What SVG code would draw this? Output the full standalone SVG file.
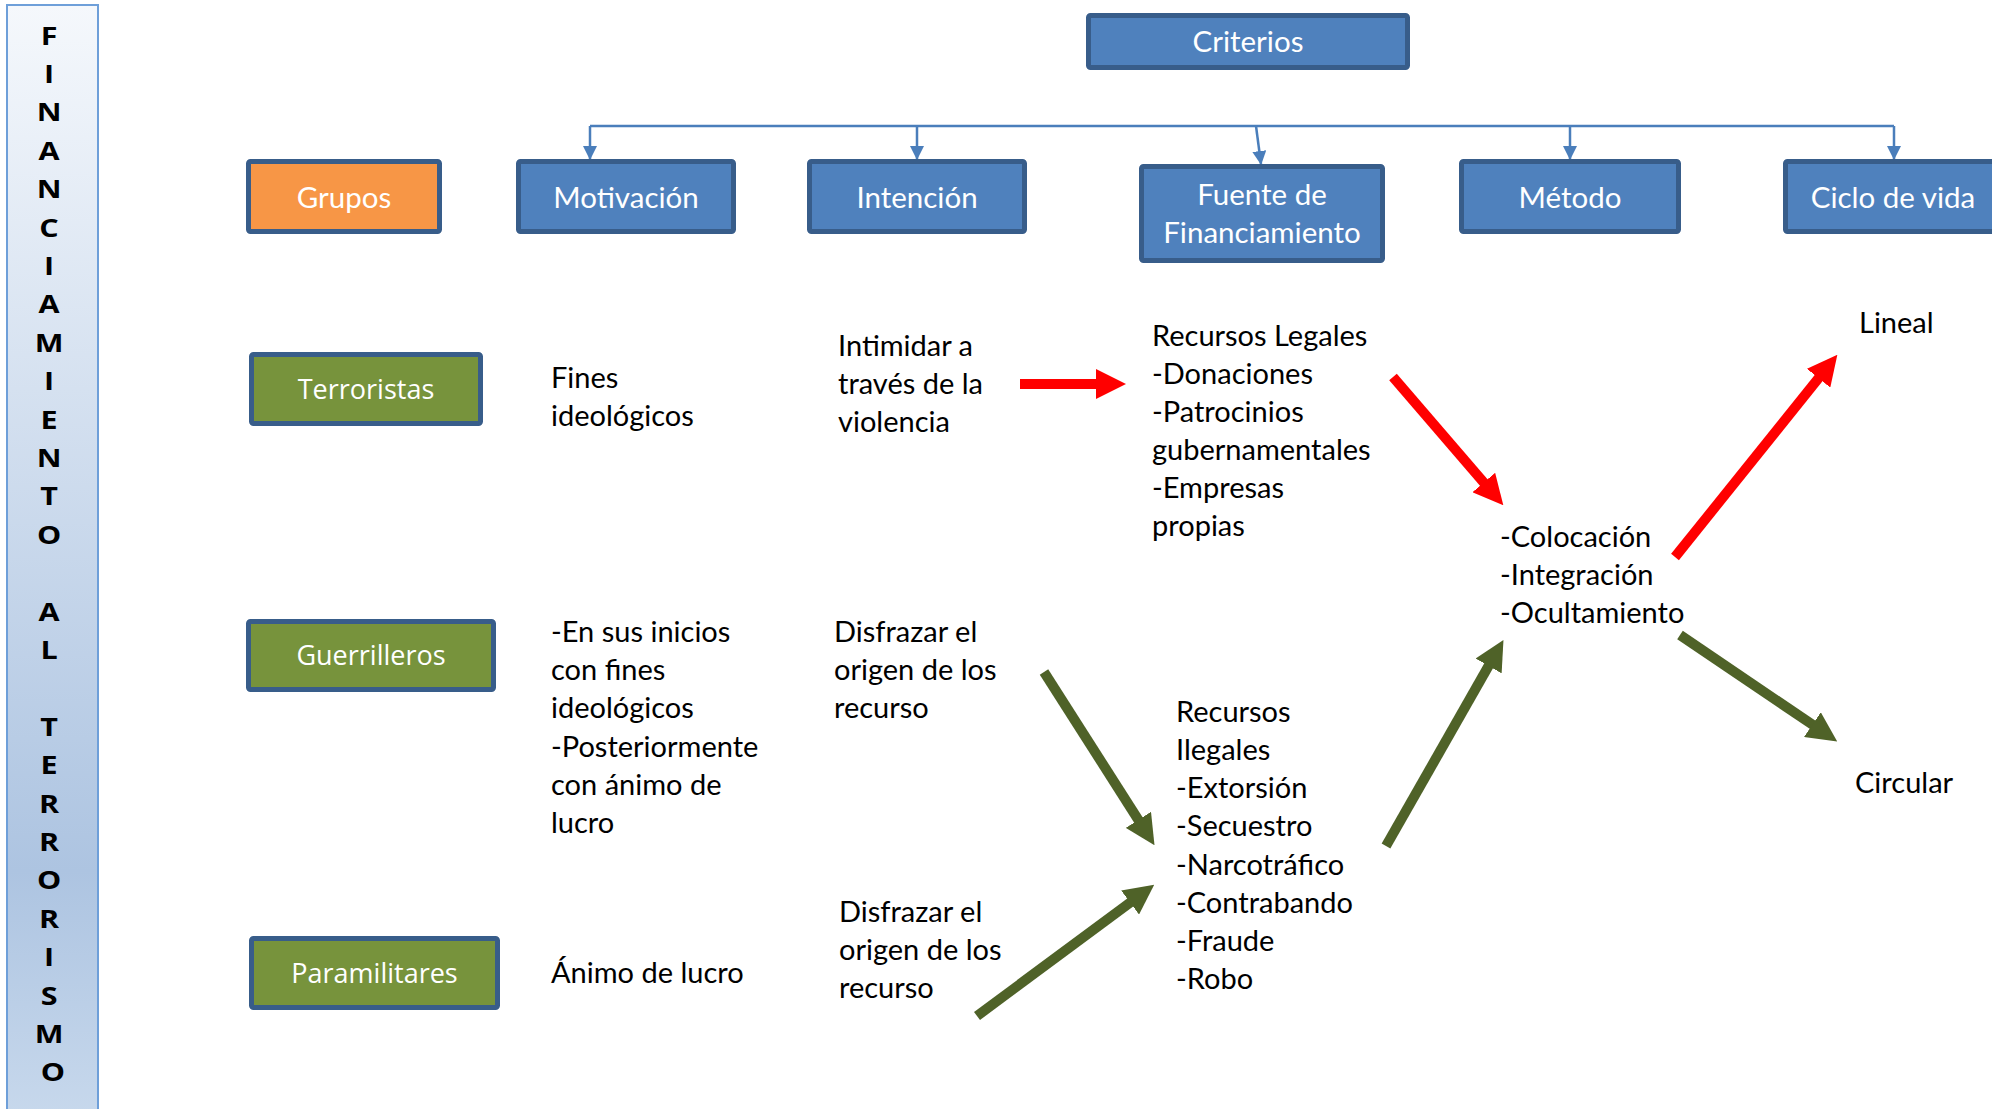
<svg xmlns="http://www.w3.org/2000/svg" width="1992" height="1109" viewBox="0 0 1992 1109">
<defs>
<linearGradient id="sideGrad" x1="0" y1="0" x2="0" y2="1">
<stop offset="0" stop-color="#f5f8fc"/>
<stop offset="0.78" stop-color="#adc4e1"/>
<stop offset="1" stop-color="#c7d8ec"/>
</linearGradient>
<marker id="mBlue" markerUnits="userSpaceOnUse" markerWidth="14" markerHeight="14" viewBox="0 0 14 14" refX="13" refY="7" orient="auto">
<path d="M0,0 L14,7 L0,14 Z" fill="#4a7ebb"/>
</marker>
<marker id="mRed" markerUnits="userSpaceOnUse" markerWidth="30" markerHeight="30" viewBox="0 0 30 30" refX="1" refY="15" orient="auto">
<path d="M0,0 L30,15 L0,30 Z" fill="#ff0000"/>
</marker>
<marker id="mGreen" markerUnits="userSpaceOnUse" markerWidth="30" markerHeight="30" viewBox="0 0 30 30" refX="1" refY="15" orient="auto">
<path d="M0,0 L30,15 L0,30 Z" fill="#4f6228"/>
</marker>
</defs>
<style>
.box{stroke:#385d8a;stroke-width:5}
.blue{fill:#4f81bd}
.orange{fill:#f79646}
.green{fill:#77933c}
.lbl{font-family:Lato,"Liberation Sans",sans-serif;font-size:29.5px;fill:#ffffff;text-anchor:middle}
.glbl{font-family:"Open Sans","Liberation Sans",sans-serif;font-size:27px;fill:#ffffff;text-anchor:middle}
.txt{font-family:Lato,"Liberation Sans",sans-serif;font-size:29px;fill:#000000}
.side{font-family:"Open Sans","Liberation Sans",sans-serif;font-size:25px;font-weight:bold;fill:#000000;text-anchor:middle}
.conn{stroke:#4a7ebb;stroke-width:2.5;fill:none}
.red{stroke:#ff0000;stroke-width:10;fill:none}
.grn{stroke:#4f6228;stroke-width:10;fill:none}
</style>
<rect width="1992" height="1109" fill="#ffffff"/>

<g id="sidebar">
<rect x="7" y="5" width="91" height="1110" fill="url(#sideGrad)" stroke="#6e9fd9" stroke-width="2"/>
<text class="side" transform="translate(53,0) scale(1.22,1) translate(-53,0)">
<tspan x="53" y="44.6">F</tspan>
<tspan x="53" dy="38.4">I</tspan>
<tspan x="53" dy="38.4">N</tspan>
<tspan x="53" dy="38.4">A</tspan>
<tspan x="53" dy="38.4">N</tspan>
<tspan x="53" dy="38.4">C</tspan>
<tspan x="53" dy="38.4">I</tspan>
<tspan x="53" dy="38.4">A</tspan>
<tspan x="53" dy="38.4">M</tspan>
<tspan x="53" dy="38.4">I</tspan>
<tspan x="53" dy="38.4">E</tspan>
<tspan x="53" dy="38.4">N</tspan>
<tspan x="53" dy="38.4">T</tspan>
<tspan x="53" dy="38.4">O</tspan>
<tspan x="53" dy="76.8">A</tspan>
<tspan x="53" dy="38.4">L</tspan>
<tspan x="53" dy="76.8">T</tspan>
<tspan x="53" dy="38.4">E</tspan>
<tspan x="53" dy="38.4">R</tspan>
<tspan x="53" dy="38.4">R</tspan>
<tspan x="53" dy="38.4">O</tspan>
<tspan x="53" dy="38.4">R</tspan>
<tspan x="53" dy="38.4">I</tspan>
<tspan x="53" dy="38.4">S</tspan>
<tspan x="53" dy="38.4">M</tspan>
<tspan x="53" dy="38.4">O</tspan>
</text>
</g>

<g id="connectors">
<polyline class="conn" points="590,126 1894,126"/>
<line class="conn" x1="590" y1="126" x2="590" y2="159" marker-end="url(#mBlue)"/>
<line class="conn" x1="917" y1="126" x2="917" y2="159" marker-end="url(#mBlue)"/>
<line class="conn" x1="1256" y1="126" x2="1261" y2="164" marker-end="url(#mBlue)"/>
<line class="conn" x1="1570" y1="126" x2="1570" y2="159" marker-end="url(#mBlue)"/>
<line class="conn" x1="1894" y1="126" x2="1894" y2="159" marker-end="url(#mBlue)"/>
<line class="red" x1="1020" y1="384" x2="1097" y2="384" marker-end="url(#mRed)"/>
<line class="red" x1="1393" y1="377" x2="1484.4" y2="483.3" marker-end="url(#mRed)"/>
<line class="red" x1="1675" y1="557" x2="1819.2" y2="377.4" marker-end="url(#mRed)"/>
<line class="grn" x1="1044" y1="672" x2="1138.9" y2="820.7" marker-end="url(#mGreen)"/>
<line class="grn" x1="977" y1="1016" x2="1130.9" y2="901.9" marker-end="url(#mGreen)"/>
<line class="grn" x1="1386" y1="846" x2="1489.1" y2="665.1" marker-end="url(#mGreen)"/>
<line class="grn" x1="1680" y1="635" x2="1813.2" y2="725.2" marker-end="url(#mGreen)"/>
</g>

<g id="criterios">
<rect class="box blue" x="1088.5" y="15.5" width="319" height="52" rx="2"/>
<text class="lbl" x="1248" y="52">Criterios</text>
</g>
<g id="grupos">
<rect class="box orange" x="248.5" y="161.5" width="191" height="70" rx="2"/>
<text class="lbl" x="344" y="208">Grupos</text>
</g>
<g id="motivacion">
<rect class="box blue" x="518.5" y="161.5" width="215" height="70" rx="2"/>
<text class="lbl" x="626" y="208">Motivación</text>
</g>
<g id="intencion">
<rect class="box blue" x="809.5" y="161.5" width="215" height="70" rx="2"/>
<text class="lbl" x="917" y="208">Intención</text>
</g>
<g id="fuente">
<rect class="box blue" x="1141.5" y="166.5" width="241" height="94" rx="2"/>
<text class="lbl" x="1262" y="205">Fuente de</text>
<text class="lbl" x="1262" y="243">Financiamiento</text>
</g>
<g id="metodo">
<rect class="box blue" x="1461.5" y="161.5" width="217" height="70" rx="2"/>
<text class="lbl" x="1570" y="208">Método</text>
</g>
<g id="ciclo">
<rect class="box blue" x="1785.5" y="161.5" width="230" height="70" rx="2"/>
<text class="lbl" x="1893" y="208">Ciclo de vida</text>
</g>

<g id="terroristas">
<rect class="box green" x="251.5" y="354.5" width="229" height="69" rx="2"/>
<text class="glbl" x="366" y="399">Terroristas</text>
</g>
<g id="guerrilleros">
<rect class="box green" x="248.5" y="621.5" width="245" height="68" rx="2"/>
<text class="glbl" x="371" y="665">Guerrilleros</text>
</g>
<g id="paramilitares">
<rect class="box green" x="251.5" y="938.5" width="246" height="69" rx="2"/>
<text class="glbl" x="374.5" y="983">Paramilitares</text>
</g>

<g id="motivacion-textos">
<text class="txt"><tspan x="551" y="388">Fines</tspan><tspan x="551" y="426">ideológicos</tspan></text>
<text class="txt"><tspan x="551" y="642">-En sus inicios</tspan><tspan x="551" y="680">con fines</tspan><tspan x="551" y="718">ideológicos</tspan><tspan x="551" y="757">-Posteriormente</tspan><tspan x="551" y="795">con ánimo de</tspan><tspan x="551" y="833">lucro</tspan></text>
<text class="txt" x="551" y="983">Ánimo de lucro</text>
</g>

<g id="intencion-textos">
<text class="txt"><tspan x="838" y="356">Intimidar a</tspan><tspan x="838" y="394">través de la</tspan><tspan x="838" y="432">violencia</tspan></text>
<text class="txt"><tspan x="834" y="642">Disfrazar el</tspan><tspan x="834" y="680">origen de los</tspan><tspan x="834" y="718">recurso</tspan></text>
<text class="txt"><tspan x="839" y="922">Disfrazar el</tspan><tspan x="839" y="960">origen de los</tspan><tspan x="839" y="998">recurso</tspan></text>
</g>

<g id="fuente-textos">
<text class="txt"><tspan x="1152" y="346">Recursos Legales</tspan><tspan x="1152" y="384">-Donaciones</tspan><tspan x="1152" y="422">-Patrocinios</tspan><tspan x="1152" y="460">gubernamentales</tspan><tspan x="1152" y="498">-Empresas</tspan><tspan x="1152" y="536">propias</tspan></text>
<text class="txt"><tspan x="1176" y="722">Recursos</tspan><tspan x="1176" y="760">Ilegales</tspan><tspan x="1176" y="798">-Extorsión</tspan><tspan x="1176" y="836">-Secuestro</tspan><tspan x="1176" y="875">-Narcotráfico</tspan><tspan x="1176" y="913">-Contrabando</tspan><tspan x="1176" y="951">-Fraude</tspan><tspan x="1176" y="989">-Robo</tspan></text>
</g>

<g id="metodo-textos">
<text class="txt"><tspan x="1500" y="547">-Colocación</tspan><tspan x="1500" y="585">-Integración</tspan><tspan x="1500" y="623">-Ocultamiento</tspan></text>
</g>

<g id="ciclo-textos">
<text class="txt" x="1859" y="333">Lineal</text>
<text class="txt" x="1855" y="793">Circular</text>
</g>
</svg>
